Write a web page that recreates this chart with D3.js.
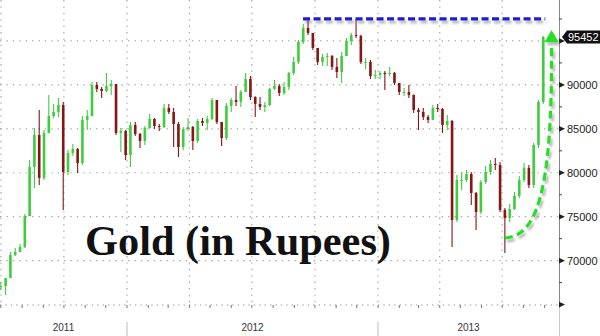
<!DOCTYPE html>
<html><head><meta charset="utf-8">
<script src="https://cdn.jsdelivr.net/npm/d3@7"></script>
<style>body{margin:0;background:#fff}svg{display:block}</style>
</head><body><svg id="c" width="600" height="336"></svg>
<script>
// Weekly bars (Friday closes), first week ending 2011-07-01
const firstWeek = "2011-07-01";
const closes = [67120,68030,70640,70990,71550,75080,80660,84300,79410,84530,
86460,86920,87710,80090,82250,82710,81110,86010,86460,89990,
89540,89310,89880,90100,84530,84760,82020,85440,84410,83620,
85100,86120,85320,85210,87370,86920,85550,82930,84980,85210,
83620,85890,85670,86120,88280,85780,83960,87600,88280,88060,
89190,90670,88620,87830,87490,87710,89540,89880,89080,89760,
91360,92610,94880,96480,95910,94200,92610,93180,93290,92040,
91470,93290,95000,95680,95570,92610,92610,91010,91130,91360,
91240,91360,90220,89190,89190,88850,87150,86920,86350,86010,
87370,87260,85440,85890,74630,79180,79180,79860,77700,75540,
78950,80090,81000,80890,75770,74860,75880,77360,79180,80550,
78610,83160,88060,95452];
const highs = [67570,68030,70990,71440,71900,75310,81460,85100,87150,84870,
88850,87830,88510,88060,82590,83280,82820,86460,87150,90330,
90330,89760,91360,90560,90100,85100,84870,85780,85780,84530,
85320,86690,86230,85550,87830,87830,87400,85780,85210,86230,
85320,86120,86230,86460,88510,88280,85780,87940,88510,89880,
89420,91360,91010,88700,88620,88060,89650,90560,90100,90330,
91470,93180,95110,96930,97500,95910,94200,93520,93630,93400,
93060,93750,95340,95910,97500,95700,93060,92830,91700,91580,
91580,92040,91470,90220,89650,89990,88900,87370,87370,86580,
87710,87830,87370,86580,86010,79750,80090,80320,80090,77800,
79180,80770,81460,81680,81230,75990,76450,77810,79630,81110,
80890,83390,88280,95570];
const lows = [66660,66090,68030,70530,70990,71440,75080,78270,78610,79180,
84530,86230,86350,75770,79750,81910,79980,80890,84870,86460,
89190,88510,89190,88850,84300,82370,81460,80660,84190,82820,
83160,85000,84980,84760,85100,86690,82930,81800,82590,84760,
82590,83390,85320,84870,86010,85550,83050,83730,86920,87600,
87490,89190,88280,86350,87150,86920,87600,89420,88740,88850,
89420,91130,92380,94660,95680,93970,92270,92150,92150,91700,
90790,90220,93290,94540,95340,92380,91810,90670,90670,90670,
89420,91010,89990,88850,88740,88510,86800,84870,86010,85670,
86010,86920,84530,84870,71550,74400,78040,78950,76330,73490,
75310,78720,79750,80320,75540,70870,74400,75770,77130,78950,
78270,78270,82820,87830];

const yTicks = [65000,70000,75000,80000,85000,90000,95000];
const yMinorTicks = [67500,72500,77500,82500,87500,92500,97500];
const yLabelTicks = [70000,75000,80000,85000,90000];
const years = ["2011","2012","2013"];
const titleText = "Gold (in Rupees)";
const lastPrice = 95452;
// annotation arrow anchors (date, value)
const arrowDates = ["2013-07-05","2013-09-11"];
const arrowValues = [72580, 94400, 96250];

const W = 600, H = 336, plotR = 559, plotB = 305;
const svg = d3.select("#c");
svg.append("rect").attr("width",W).attr("height",H).attr("fill","#fff");

const parse = d3.timeParse("%Y-%m-%d");
const d0 = parse(firstWeek);
const dates = closes.map((_, i) => d3.timeDay.offset(d0, 7 * i));

const x = d3.scaleTime()
  .domain([new Date(2012,0,1), new Date(2013,0,1)])
  .range([127, 378]);
const domStart = x.invert(0), domEnd = x.invert(plotR);
const y = d3.scaleLinear().domain([65000, 100000]).range([304.6, -3.0]);

const defs = svg.append("defs");
const f = defs.append("filter").attr("id","sh").attr("filterUnits","userSpaceOnUse")
  .attr("x",0).attr("y",0).attr("width",W).attr("height",H);
f.append("feDropShadow").attr("dx",2).attr("dy",3).attr("stdDeviation",1.3)
  .attr("flood-color","#666").attr("flood-opacity",0.45);

// grid
const grid = svg.append("g");
grid.selectAll("line.h").data(yTicks.filter(v => v > 65000)).join("line")
  .attr("x1",0).attr("x2",plotR).attr("y1",d=>y(d)).attr("y2",d=>y(d))
  .attr("stroke","#a8a8a8").attr("stroke-width",1.2).attr("stroke-dasharray","1.4,5");
const quarters = d3.timeMonths(new Date(2011,6,1), domEnd, 3);
grid.selectAll("line.v").data(quarters).join("line")
  .attr("x1",d=>Math.max(1,x(d))).attr("x2",d=>Math.max(1,x(d))).attr("y1",0).attr("y2",plotB)
  .attr("stroke","#a8a8a8").attr("stroke-width",1.2).attr("stroke-dasharray","1.4,5");

// bottom axis (dotted) with monthly ticks
svg.append("line").attr("x1",0).attr("x2",plotR).attr("y1",plotB).attr("y2",plotB)
  .attr("stroke","#999").attr("stroke-width",1.2).attr("stroke-dasharray","1.4,4");
const months = d3.timeMonths(domStart, domEnd);
svg.append("g").selectAll("line").data(months).join("line")
  .attr("x1",d=>x(d)).attr("x2",d=>x(d)).attr("y1",plotB).attr("y2",plotB+3)
  .attr("stroke","#777").attr("stroke-width",1);

// year separators and labels
const yearStarts = [new Date(2012,0,1), new Date(2013,0,1)];
svg.append("g").selectAll("line").data(yearStarts).join("line")
  .attr("x1",d=>x(d)).attr("x2",d=>x(d)).attr("y1",322).attr("y2",H)
  .attr("stroke","#bbb").attr("stroke-width",1);
svg.append("g").selectAll("text").data(years).join("text")
  .attr("x", d => {
    const a = new Date(+d,0,1), b = new Date(+d+1,0,1);
    return (x(a < domStart ? domStart : a) + x(b > domEnd ? domEnd : b)) / 2;
  })
  .attr("y", 331).attr("text-anchor","middle")
  .attr("font-family","Liberation Sans, Arial, sans-serif").attr("font-size",10)
  .attr("fill","#333").text(d=>d);

// right axis
svg.append("line").attr("x1",plotR+0.5).attr("x2",plotR+0.5).attr("y1",0).attr("y2",plotB)
  .attr("stroke","#888").attr("stroke-width",1);
svg.append("line").attr("x1",plotR+0.5).attr("x2",plotR+0.5).attr("y1",plotB).attr("y2",H)
  .attr("stroke","#ccc").attr("stroke-width",1);
svg.append("g").selectAll("path").data(yTicks).join("path")
  .attr("d", d => `M${plotR},${y(d)-2.8}L${plotR+6},${y(d)}L${plotR},${y(d)+2.8}Z`)
  .attr("fill","#222");
svg.append("g").selectAll("line").data(yMinorTicks).join("line")
  .attr("x1",plotR).attr("x2",plotR+3).attr("y1",d=>y(d)).attr("y2",d=>y(d))
  .attr("stroke","#444").attr("stroke-width",1);
svg.append("g").selectAll("text").data(yLabelTicks).join("text")
  .attr("x", plotR+8).attr("y", d=>y(d)+4)
  .attr("font-family","Liberation Sans, Arial, sans-serif").attr("font-size",11)
  .attr("fill","#222").text(d=>d);

// candles
const up = "#3fcc3f", down = "#861616";
const bars = svg.append("g");
closes.forEach((c, i) => {
  const o = i === 0 ? c : closes[i-1];
  const col = c >= o ? up : down;
  const cx = x(dates[i]);
  bars.append("line").attr("x1",cx).attr("x2",cx)
    .attr("y1",y(highs[i])).attr("y2",y(lows[i]))
    .attr("stroke",col).attr("stroke-width",1.1);
  const top = y(Math.max(o,c)), bot = y(Math.min(o,c));
  bars.append("rect").attr("x",cx-1.3).attr("width",2.6)
    .attr("y",top).attr("height",Math.max(1,bot-top)).attr("fill",col);
});

// all-time-high dashed level
const peak = d3.max(highs);
const iPeak = highs.indexOf(peak);
svg.append("line")
  .attr("x1", x(dates[iPeak]) - 5).attr("x2", x(dates[dates.length-1]) + 2)
  .attr("y1", y(peak)).attr("y2", y(peak))
  .attr("stroke","#1f1fd6").attr("stroke-width",3.2).attr("stroke-dasharray","7,3.5")
  .attr("filter","url(#sh)");

// green curved arrow
const p0 = [x(parse(arrowDates[0])), y(arrowValues[0])];
const p3 = [x(parse(arrowDates[1])), y(arrowValues[1])];
const tipY = y(arrowValues[2]);
const c1 = [p0[0] + (p3[0]-p0[0])*0.64, p0[1] - 2];
const c2 = [p3[0] + 1, p0[1] - (p0[1]-p3[1])*0.2];
const ag = svg.append("g").attr("filter","url(#sh)");
ag.append("path")
  .attr("d", `M${p0}C${c1} ${c2} ${p3}`)
  .attr("fill","none").attr("stroke","#22e022").attr("stroke-width",3.2)
  .attr("stroke-dasharray","8,4.5");
ag.append("path")
  .attr("d", `M${p3[0]-7},${p3[1]-4}L${p3[0]},${tipY}L${p3[0]+7},${p3[1]-4}Z`)
  .attr("fill","#22e022");

// last price tag
const ly = y(lastPrice);
svg.append("path")
  .attr("d", `M${plotR+3},${ly}L${plotR+8},${ly-6.5}L${W},${ly-6.5}L${W},${ly+6.5}L${plotR+8},${ly+6.5}Z`)
  .attr("fill","#111");
svg.append("text").attr("x",plotR+9).attr("y",ly+4)
  .attr("font-family","Liberation Sans, Arial, sans-serif").attr("font-size",11)
  .attr("fill","#fff").text(lastPrice);

// title
const t = svg.append("text").attr("x",85).attr("y",255)
  .attr("font-family","Liberation Serif, Times New Roman, serif").attr("font-weight","bold")
  .attr("font-size",42).attr("fill","#111").text(titleText);
const tw = t.node().getComputedTextLength();
t.attr("font-size", 42 * 306 / tw);
</script></body></html>
